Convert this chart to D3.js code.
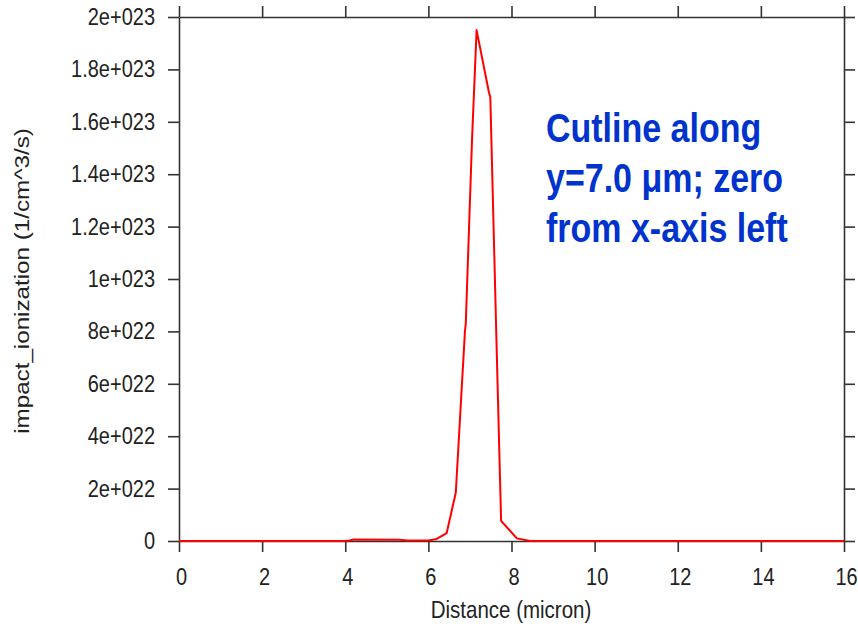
<!DOCTYPE html>
<html>
<head>
<meta charset="utf-8">
<script src="https://cdn.jsdelivr.net/npm/d3@7"></script>
<style>
  html, body { margin: 0; padding: 0; background: #fff; }
  svg { display: block; }
  .axis text { font-family: "Liberation Sans", Arial, sans-serif; font-size: 20px; fill: #222; }
  .axis path, .axis line { stroke: #333; stroke-width: 1.6px; }
</style>
</head>
<body>
<svg id="chart" width="858" height="624"></svg>
<script>
// Impact ionization along the cutline (x in micron, value in 1/cm^3/s)
const distance = [0, 2, 4, 4.1, 4.2, 5.3, 5.5, 6.0, 6.2, 6.44, 6.66, 6.88, 6.9, 7.05, 7.16, 7.46, 7.49, 7.66, 7.75, 8.13, 8.45, 10, 12, 14, 16];
const impact = [0, 0, 0, 2e20, 6e20, 5e20, 2e20, 2e20, 8e20, 3.0e21, 1.85e22, 8.0e22, 8.3e22, 1.53e23, 1.95e23, 1.71e23, 1.695e23, 6.3e22, 7.7e21, 1.0e21, 0, 0, 0, 0, 0];

const xTicks = [0, 2, 4, 6, 8, 10, 12, 14, 16];
const xTickLabels = ["0", "2", "4", "6", "8", "10", "12", "14", "16"];
const yTicks = [0, 2e22, 4e22, 6e22, 8e22, 1e23, 1.2e23, 1.4e23, 1.6e23, 1.8e23, 2e23];
const yTickLabels = ["0", "2e+022", "4e+022", "6e+022", "8e+022", "1e+023", "1.2e+023", "1.4e+023", "1.6e+023", "1.8e+023", "2e+023"];

const xTitle = "Distance (micron)";
const yTitle = "impact_ionization (1/cm^3/s)";
const noteLines = ["Cutline along", "y=7.0 \u03bcm; zero", "from x-axis left"];

const svg = d3.select("#chart");
const plotLeft = 179, plotRight = 844, plotTop = 17, plotBottom = 541;
const stretch = 1.18;   // taller glyphs than the font's natural proportions

const x = d3.scaleLinear().domain([0, 16]).range([plotLeft, plotRight]);
const y = d3.scaleLinear().domain([0, 2e23]).range([plotBottom, plotTop]);

const tick = 11;

// left axis with labels
const gLeft = svg.append("g").attr("class", "axis")
  .attr("transform", `translate(${plotLeft},0)`)
  .call(d3.axisLeft(y).tickValues(yTicks).tickSize(tick).tickSizeOuter(0).tickPadding(13)
    .tickFormat((d, i) => yTickLabels[i]));
gLeft.selectAll(".tick text").attr("transform", `scale(1,${stretch})`);

// right axis, ticks only
svg.append("g").attr("class", "axis")
  .attr("transform", `translate(${plotRight},0)`)
  .call(d3.axisRight(y).tickValues(yTicks).tickSize(tick).tickSizeOuter(0).tickFormat(""));

// top axis, ticks only
svg.append("g").attr("class", "axis")
  .attr("transform", `translate(0,${plotTop})`)
  .call(d3.axisTop(x).tickValues(xTicks).tickSize(tick).tickSizeOuter(0).tickFormat(""));

// bottom axis with labels
const gBottom = svg.append("g").attr("class", "axis")
  .attr("transform", `translate(0,${plotBottom})`)
  .call(d3.axisBottom(x).tickValues(xTicks).tickSize(tick).tickSizeOuter(0)
    .tickFormat((d, i) => xTickLabels[i]));
gBottom.selectAll(".tick text")
  .attr("y", 0).attr("dy", 0)
  .attr("transform", `translate(2,44) scale(1,${stretch})`);

// axis titles
svg.append("g")
  .attr("transform", `translate(511,618) scale(1,${stretch})`)
  .append("text")
  .attr("text-anchor", "middle")
  .style("font-family", "Liberation Sans, Arial, sans-serif")
  .style("font-size", "20.5px")
  .style("fill", "#222")
  .text(xTitle);

svg.append("g")
  .attr("transform", `translate(29,281) scale(1,${stretch}) rotate(-90)`)
  .append("text")
  .attr("text-anchor", "middle")
  .style("font-family", "Liberation Sans, Arial, sans-serif")
  .style("font-size", "20.5px")
  .style("fill", "#222")
  .text(yTitle);

// data curve
const line = d3.line().x((d, i) => x(distance[i])).y(d => y(d));
svg.append("path")
  .datum(impact)
  .attr("d", line)
  .attr("fill", "none")
  .attr("stroke", "#ff0000")
  .attr("stroke-width", 2)
  .attr("stroke-linejoin", "round");

// annotation
noteLines.forEach((t, i) => {
  svg.append("g")
    .attr("transform", `translate(546,${141.7 + i * 50}) scale(1,1.22)`)
    .append("text")
    .style("font-family", "Liberation Sans, Arial, sans-serif")
    .style("font-weight", "bold")
    .style("font-size", "34px")
    .style("fill", "#0033cc")
    .text(t);
});
</script>
</body>
</html>
